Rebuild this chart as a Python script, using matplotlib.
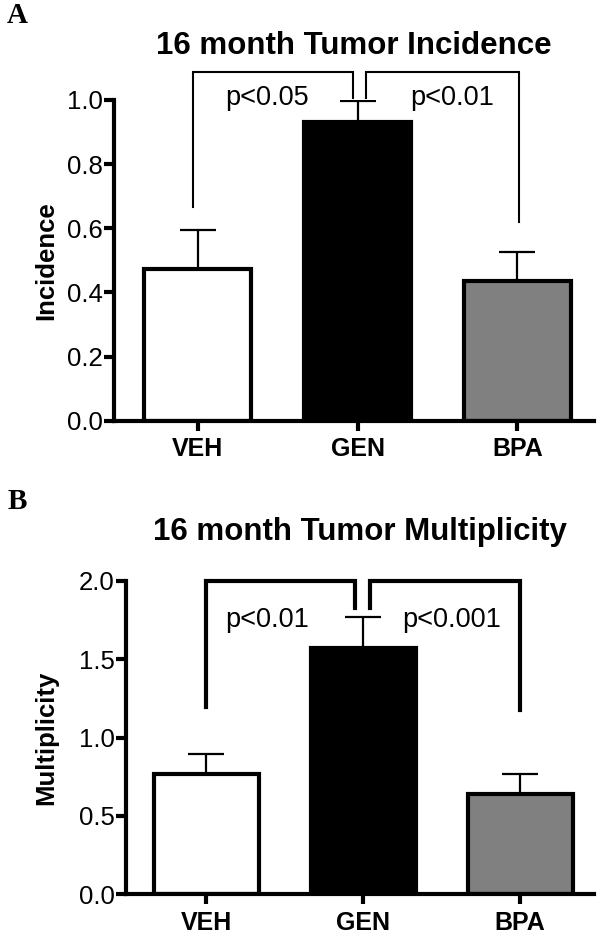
import matplotlib
matplotlib.use("Agg")
import matplotlib.pyplot as plt

plt.rcParams['font.family'] = ['Liberation Sans', 'DejaVu Sans']

groups = ['VEH', 'GEN', 'BPA']
colors = ['white', 'black', '#808080']

incidence = [0.472, 0.930, 0.436]
incidence_err = [0.123, 0.067, 0.089]
multiplicity = [0.765, 1.570, 0.637]
multiplicity_err = [0.132, 0.200, 0.132]

p_incidence = ['p<0.05', 'p<0.01']
p_multiplicity = ['p<0.01', 'p<0.001']


def draw_panel(ax, values, errs, ylim, yticks, ylabel, title, letter,
               brackets, bracket_y, leg_low, pvals, p_pos, bracket_lw, xlim):
    x = range(len(groups))
    ax.bar(x, values, width=0.67, color=colors, edgecolor='black',
           linewidth=3, zorder=2)
    ax.errorbar(x, values, yerr=[[0] * len(errs), errs], fmt='none',
                ecolor='black', elinewidth=1.6, capsize=13, capthick=1.6,
                zorder=1)
    ax.set_xlim(*xlim)
    ax.set_ylim(*ylim)
    ax.set_yticks(yticks)
    ax.set_yticklabels(['%.1f' % t for t in yticks], fontsize=18.5)
    ax.set_xticks(list(x))
    ax.set_xticklabels(groups, fontsize=18, fontweight='bold')
    for s in ['top', 'right']:
        ax.spines[s].set_visible(False)
    for s in ['left', 'bottom']:
        ax.spines[s].set_linewidth(3)
    ax.tick_params(axis='y', length=7, width=3, pad=1)
    ax.tick_params(axis='x', length=7, width=3, pad=5)

    # significance brackets
    (l0, l1), (r0, r1) = brackets
    ax.plot([l0, l0, l1, l1], [leg_low[0], bracket_y, bracket_y, leg_low[2]],
            color='black', lw=bracket_lw, clip_on=False,
            solid_joinstyle='miter')
    ax.plot([r0, r0, r1, r1], [leg_low[2], bracket_y, bracket_y, leg_low[1]],
            color='black', lw=bracket_lw, clip_on=False,
            solid_joinstyle='miter')
    for txt, (px, py) in zip(pvals, p_pos):
        ax.text(px, py, txt, fontsize=19.5, ha='center', va='center')

    pos = ax.get_position()
    fig = ax.figure
    fig.text(0.077, (pos.y0 + pos.y1) / 2, ylabel, rotation=90, fontsize=18.5,
             fontweight='bold', ha='center', va='center')
    fig.text((pos.x0 + pos.x1) / 2, pos.y1 + letter[2], title, fontsize=22.5,
             fontweight='bold', ha='center', va='center')
    fig.text(0.012, letter[1], letter[0], fontsize=21, fontweight='bold',
             family='Liberation Serif', ha='left', va='center')


fig = plt.figure(figsize=(6, 9.38), dpi=100)
axA = fig.add_axes([0.19, 0.5515, 0.80, 0.342])
axB = fig.add_axes([0.21, 0.0469, 0.78, 0.3337])

draw_panel(axA, incidence, incidence_err, (0, 1.0),
           [0.0, 0.2, 0.4, 0.6, 0.8, 1.0], 'Incidence',
           '16 month Tumor Incidence', ('A', 0.984, 0.057),
           ((-0.03, 0.97), (1.05, 2.01)), 1.088, (0.665, 0.62, 1.005),
           p_incidence, [(0.43, 1.005), (1.59, 1.005)], 1.5, (-0.525, 2.48))

draw_panel(axB, multiplicity, multiplicity_err, (0, 2.0),
           [0.0, 0.5, 1.0, 1.5, 2.0], 'Multiplicity',
           '16 month Tumor Multiplicity', ('B', 0.465, 0.052),
           ((0.0, 0.95), (1.045, 2.0)), 2.0, (1.197, 1.176, 1.83),
           p_multiplicity, [(0.39, 1.75), (1.56, 1.75)], 3, (-0.512, 2.47))

fig.savefig('out.png', dpi=100)
